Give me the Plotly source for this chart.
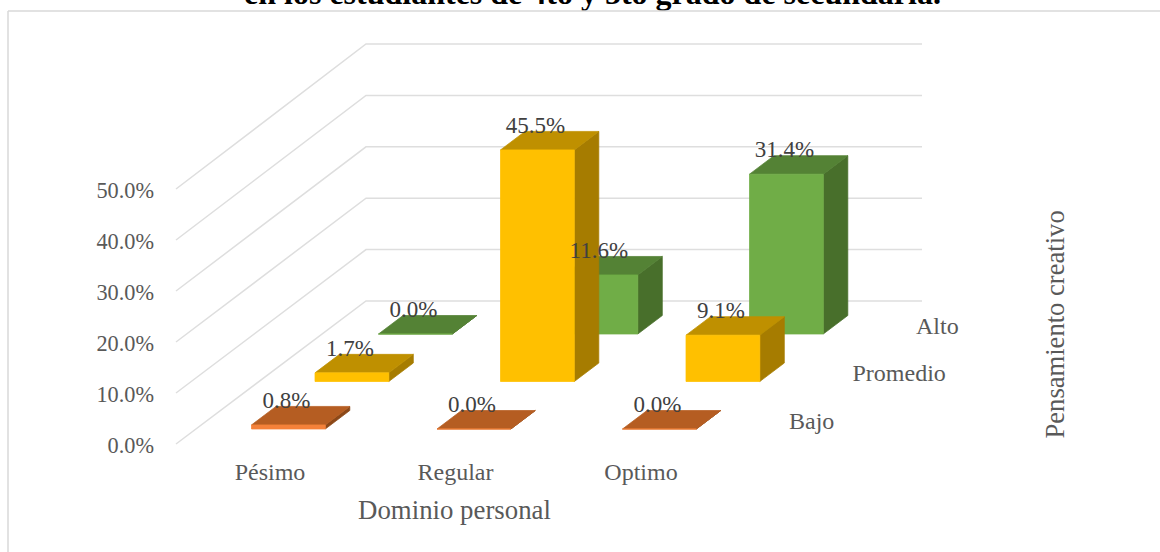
import plotly.graph_objects as go

categories = ["Pésimo", "Regular", "Optimo"]
series_names = ["Bajo", "Promedio", "Alto"]
bajo = [0.8, 0.0, 0.0]
promedio = [1.7, 45.5, 9.1]
alto = [0.0, 11.6, 31.4]
value_ticks = [0, 10, 20, 30, 40, 50]
title_text = "en los estudiantes de 4to y 5to grado de secundaria."
x_title = "Dominio personal"
z_title = "Pensamiento creativo"

front_colors = ["#F4813A", "#FFC000", "#70AD47"]
top_colors = ["#B55D22", "#BF9000", "#548235"]
side_colors = ["#8C4818", "#A67C00", "#486F2B"]
SERIF = "Liberation Serif"

# oblique projection of the Excel 3-D chart box
X0, Y0 = 251.5, 429.0
CAT_DX = 185.5
SER_DX, SER_DY = 63.5, -47.5
BAR_W = 73.8
DEPTH_DX, DEPTH_DY = 24.5, -18.5
UNIT = 5.09


def px(c, s, w=0.0, d=0.0):
    return X0 + CAT_DX * c + SER_DX * s + BAR_W * w + DEPTH_DX * d


def py(s, v=0.0, d=0.0):
    return Y0 + SER_DY * s + DEPTH_DY * d - UNIT * v


fig = go.Figure()


def text_trace(x, y, s, size, color, pos="middle center", bold=False, clip=False):
    fig.add_trace(go.Scatter(
        x=[x], y=[y], mode="text", text=[f"<b>{s}</b>" if bold else s],
        textposition=pos, cliponaxis=clip, hoverinfo="skip", showlegend=False,
        textfont=dict(family=SERIF, size=size, color=color)))


def poly(pts, fill, line, lw=0.75):
    xs = [p[0] for p in pts] + [pts[0][0]]
    ys = [p[1] for p in pts] + [pts[0][1]]
    fig.add_trace(go.Scatter(
        x=xs, y=ys, mode="lines", fill="toself", fillcolor=fill,
        line=dict(color=line, width=lw), hoverinfo="skip", showlegend=False))


# title sits behind the chart area, whose top edge cuts its descenders
text_trace(592.5, 12, title_text, 32, "#000000", "top center", bold=True)

# chart area
fig.add_trace(go.Scatter(
    x=[8, 1175, 1175, 8, 8], y=[11, 11, 570, 570, 11], mode="lines", fill="toself",
    fillcolor="#FFFFFF", line=dict(color="#D9D9D9", width=1.5),
    hoverinfo="skip", showlegend=False))

# walls
WALL_FX, WALL_FY, WALL_BX, WALL_BY, WALL_RX = 176, 444, 366, 301, 922
for v in value_ticks:
    fig.add_trace(go.Scatter(
        x=[WALL_FX, WALL_BX, WALL_RX],
        y=[WALL_FY - 5.1 * v, WALL_BY - 5.14 * v, WALL_BY - 5.14 * v],
        mode="lines", line=dict(color="#DEDEDE", width=1.5),
        hoverinfo="skip", showlegend=False))
    text_trace(154, WALL_FY + 3 - 5.1 * v, f"{v:.1f}%", 22.3, "#595959", "middle left")

# bars, back to front
rows = [bajo, promedio, alto]
for s in (2, 1, 0):
    for c, v in enumerate(rows[s]):
        f, t, r = front_colors[s], top_colors[s], side_colors[s]
        poly([(px(c, s, 1), py(s)), (px(c, s, 1, 1), py(s, 0, 1)),
              (px(c, s, 1, 1), py(s, v, 1)), (px(c, s, 1), py(s, v))], r, r)
        poly([(px(c, s), py(s, v)), (px(c, s, 1), py(s, v)),
              (px(c, s, 1, 1), py(s, v, 1)), (px(c, s, 0, 1), py(s, v, 1))], t, t)
        poly([(px(c, s), py(s)), (px(c, s, 1), py(s)),
              (px(c, s, 1), py(s, v)), (px(c, s), py(s, v))], f, f)

# data labels
for s in (2, 1, 0):
    for c, v in enumerate(rows[s]):
        text_trace(px(c, s, 0.5) - 2, py(s, v) - 23, f"{v:.1f}%", 23, "#404040")

# category labels
for c, name in enumerate(categories):
    text_trace(px(c, 0) + 18.5, 474, name, 24, "#595959")

# series labels (left-aligned)
for s, name in enumerate(series_names):
    text_trace(789 + SER_DX * s, 422.5 + SER_DY * s, name, 24, "#595959", "middle right")

text_trace(454.5, 512, x_title, 26.8, "#595959")

fig.update_layout(
    width=1160, height=552, margin=dict(l=0, r=0, t=0, b=0), autosize=False,
    paper_bgcolor="#FFFFFF", plot_bgcolor="#FFFFFF", showlegend=False,
    xaxis=dict(range=[0, 1160], visible=False, fixedrange=True),
    yaxis=dict(range=[552, 0], visible=False, fixedrange=True),
    annotations=[dict(
        text=z_title, x=1054.5, y=325, xref="x", yref="y", showarrow=False,
        textangle=-90, xanchor="center", yanchor="middle",
        font=dict(family=SERIF, size=26.6, color="#595959"))],
)
fig.write_html("out.html", config={"displayModeBar": False},
               post_script="document.body.style.margin='0';document.documentElement.style.overflow='hidden';")
